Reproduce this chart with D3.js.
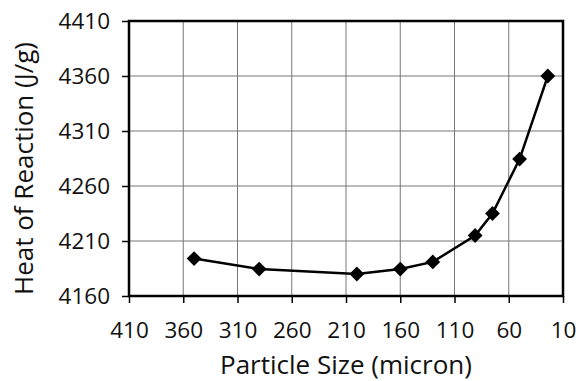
<!DOCTYPE html>
<html>
<head>
<meta charset="utf-8">
<script src="https://cdn.jsdelivr.net/npm/d3@7"></script>
<style>
  body { margin: 0; background: #fff; }
  svg { display: block; font-family: "Open Sans", sans-serif; }
</style>
</head>
<body>
<div id="chart"></div>
<script>
// particle size (micron) and heat of reaction (J/g)
const particleSize = [350, 290, 200, 160, 130, 91, 75, 50, 24];
const heatOfReaction = [4194, 4184.5, 4180, 4184.5, 4191, 4215, 4235, 4284.5, 4360];
const xTicks = [410, 360, 310, 260, 210, 160, 110, 60, 10];
const yTicks = [4160, 4210, 4260, 4310, 4360, 4410];

const width = 578, height = 381;
const margin = { top: 21, right: 15, bottom: 85, left: 129 };
const w = width - margin.left - margin.right;
const h = height - margin.top - margin.bottom;

const svg = d3.select('#chart').append('svg')
    .attr('width', width).attr('height', height);

const x = d3.scaleLinear().domain([410, 10]).range([0, w]);
const y = d3.scaleLinear().domain([4160, 4410]).range([h, 0]);

const g = svg.append('g')
    .attr('transform', `translate(${margin.left},${margin.top})`);

// grid
g.append('g').selectAll('line').data(xTicks).enter().append('line')
    .attr('x1', d => x(d)).attr('x2', d => x(d))
    .attr('y1', 0).attr('y2', h)
    .attr('stroke', '#777').attr('stroke-width', 1);
g.append('g').selectAll('line').data(yTicks).enter().append('line')
    .attr('y1', d => y(d)).attr('y2', d => y(d))
    .attr('x1', 0).attr('x2', w)
    .attr('stroke', '#777').attr('stroke-width', 1);

// axes
const gx = g.append('g').attr('transform', `translate(0,${h})`)
    .call(d3.axisBottom(x).tickValues(xTicks).tickSize(7).tickPadding(19).tickFormat(d3.format('d')));
const gy = g.append('g')
    .call(d3.axisLeft(y).tickValues(yTicks).tickSize(7).tickPadding(12).tickFormat(d3.format('d')));
[gx, gy].forEach(a => {
    a.select('.domain').remove();
    a.selectAll('line').attr('stroke', '#000').attr('stroke-width', 1.5);
    a.selectAll('text').attr('font-size', 22.5).attr('fill', '#111')
        .attr('font-family', '"Open Sans", sans-serif');
});

// frame
g.append('rect').attr('width', w).attr('height', h)
    .attr('fill', 'none').attr('stroke', '#000').attr('stroke-width', 2.5);

// series
const pts = particleSize.map((d, i) => [d, heatOfReaction[i]]);
g.append('path').datum(pts)
    .attr('fill', 'none').attr('stroke', '#000').attr('stroke-width', 2.5)
    .attr('d', d3.line().x(d => x(d[0])).y(d => y(d[1])));
g.append('g').selectAll('path').data(pts).enter().append('path')
    .attr('transform', d => `translate(${x(d[0])},${y(d[1])})`)
    .attr('d', d3.symbol(d3.symbolDiamond2, 140)())
    .attr('fill', '#000');

// titles
svg.append('text')
    .attr('x', margin.left + w / 2).attr('y', 374)
    .attr('text-anchor', 'middle').attr('font-size', 26).attr('fill', '#111')
    .text('Particle Size (micron)');
svg.append('text')
    .attr('transform', `translate(33,168.5) rotate(-90)`)
    .attr('text-anchor', 'middle').attr('font-size', 26).attr('fill', '#111')
    .text('Heat of Reaction (J/g)');
</script>
</body>
</html>
